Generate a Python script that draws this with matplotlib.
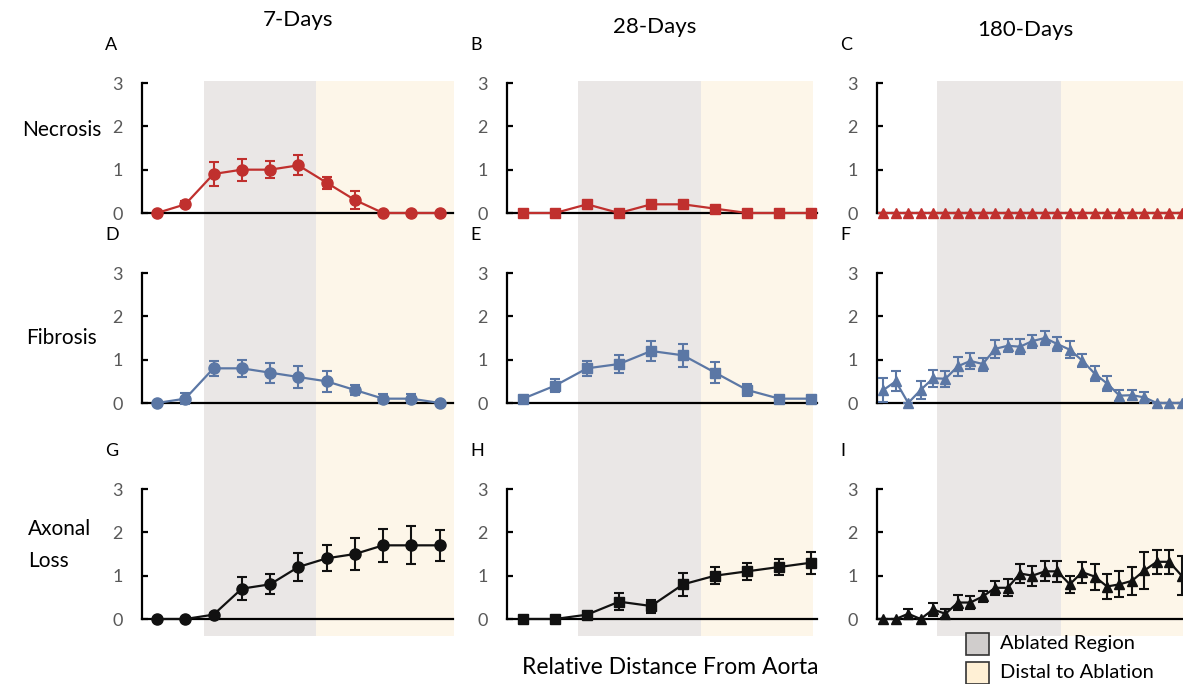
import numpy as np
import matplotlib
matplotlib.use("Agg")
import matplotlib.pyplot as plt
from matplotlib.patches import Rectangle

plt.rcParams['font.family'] = ['Lato', 'DejaVu Sans']

# ---- data ----
titles = ["7-Days", "28-Days", "180-Days"]
row_names = ["Necrosis", "Fibrosis", "Axonal\nLoss"]
letters = ["A", "B", "C", "D", "E", "F", "G", "H", "I"]

# 7 days (11 positions)
nec_7 = [0, 0.2, 0.9, 1.0, 1.0, 1.1, 0.7, 0.3, 0, 0, 0]
nec_7_err = [0, 0.07, 0.27, 0.25, 0.2, 0.23, 0.14, 0.2, 0, 0, 0]
fib_7 = [0, 0.1, 0.8, 0.8, 0.7, 0.6, 0.5, 0.3, 0.1, 0.1, 0]
fib_7_err = [0, 0.12, 0.17, 0.2, 0.23, 0.26, 0.24, 0.12, 0.1, 0.1, 0]
ax_7 = [0, 0, 0.1, 0.7, 0.8, 1.2, 1.4, 1.5, 1.7, 1.7, 1.7]
ax_7_err = [0, 0, 0.05, 0.26, 0.23, 0.32, 0.3, 0.36, 0.38, 0.44, 0.35]

# 28 days (10 positions)
nec_28 = [0, 0, 0.2, 0, 0.2, 0.2, 0.1, 0, 0, 0]
nec_28_err = [0, 0, 0.06, 0, 0.06, 0.06, 0.04, 0, 0, 0]
fib_28 = [0.1, 0.4, 0.8, 0.9, 1.2, 1.1, 0.7, 0.3, 0.1, 0.1]
fib_28_err = [0.05, 0.15, 0.17, 0.2, 0.24, 0.26, 0.24, 0.13, 0.05, 0.05]
ax_28 = [0, 0, 0.1, 0.4, 0.3, 0.8, 1.0, 1.1, 1.2, 1.3]
ax_28_err = [0, 0, 0.05, 0.2, 0.15, 0.26, 0.2, 0.2, 0.18, 0.25]

# 180 days (25 visible positions)
nec_180 = [0] * 25
nec_180_err = [0] * 25
fib_180 = [0.3, 0.5, 0, 0.3, 0.57, 0.56, 0.85, 0.97, 0.9, 1.25, 1.32, 1.3, 1.43,
           1.5, 1.36, 1.23, 0.98, 0.68, 0.45, 0.17, 0.18, 0.13, 0, 0, 0]
fib_180_err = [0.27, 0.23, 0, 0.2, 0.2, 0.18, 0.22, 0.18, 0.15, 0.2, 0.15, 0.18, 0.15,
               0.17, 0.17, 0.2, 0.14, 0.18, 0.17, 0.12, 0.12, 0.12, 0, 0, 0]
ax_180 = [0, 0, 0.12, 0, 0.22, 0.12, 0.38, 0.38, 0.52, 0.72, 0.72, 1.05, 1.0,
          1.1, 1.1, 0.8, 1.08, 0.98, 0.75, 0.8, 0.88, 1.12, 1.32, 1.32, 1.0]
ax_180_err = [0, 0, 0.12, 0, 0.15, 0.1, 0.17, 0.15, 0.12, 0.16, 0.2, 0.22, 0.23,
              0.23, 0.24, 0.2, 0.24, 0.3, 0.28, 0.3, 0.33, 0.42, 0.27, 0.27, 0.45]

grid_vals = [[(nec_7, nec_7_err), (nec_28, nec_28_err), (nec_180, nec_180_err)],
             [(fib_7, fib_7_err), (fib_28, fib_28_err), (fib_180, fib_180_err)],
             [(ax_7, ax_7_err), (ax_28, ax_28_err), (ax_180, ax_180_err)]]

# region boundaries in position units (ablated start, ablated end, distal end)
regions = [(2.67, 6.64, 11.52), (2.72, 6.56, 10.07), (5.34, 15.32, 30)]

# ---- layout (pixels) ----
W, H = 1183, 684
fig = plt.figure(figsize=(W / 100, H / 100), dpi=100)

def px_axes(left, right, top, bottom, **kw):
    return fig.add_axes([left / W, 1 - bottom / H, (right - left) / W, (bottom - top) / H], **kw)

cols = [(142, 453, (0.47, 11.47)), (507, 817, (0.5, 10.18)), (877, 1183, (0.49, 25.11))]
rows = [(83, 213), (273, 403), (489, 619)]
row_colors = ['#C0302E', '#5B77A5', '#111111']
col_markers = ['o', 's', '^']
msizes = [8, 7, 6.5]
gray_c = '#EAE7E6'
beige_c = '#FDF6E9'
tick_c = '#595959'

# shading background spanning all three rows
for (left, right, xl), (a0, a1, a2) in zip(cols, regions):
    bg = px_axes(left, right, 81, 636, zorder=0)
    bg.set_xlim(xl)
    bg.axvspan(a0, a1, color=gray_c, lw=0, clip_on=False)
    bg.axvspan(a1, a2, color=beige_c, lw=0, clip_on=False)
    bg.axis('off')

for r, (top, bot) in enumerate(rows):
    for c, (left, right, xl) in enumerate(cols):
        ax = px_axes(left, right, top, bot, zorder=2)
        ax.patch.set_alpha(0)
        vals, errs = grid_vals[r][c]
        x = np.arange(1, len(vals) + 1)
        ax.errorbar(x, vals, yerr=errs, color=row_colors[r], marker=col_markers[c],
                    ms=msizes[c], lw=1.6, elinewidth=1.5, capsize=3.5, capthick=1.5,
                    clip_on=False, zorder=3)
        ax.set_xlim(xl)
        ax.set_ylim(0, 3)
        ax.set_yticks([0, 1, 2, 3])
        ax.set_xticks([])
        for s in ['top', 'right']:
            ax.spines[s].set_visible(False)
        ax.spines['left'].set_linewidth(1.6)
        ax.spines['bottom'].set_linewidth(1.6)
        ax.tick_params(axis='y', direction='in', length=4, width=1.6, colors='black',
                       labelcolor=tick_c, labelsize=13, pad=14)
        fig.text((left - 37) / W, 1 - (top - 38) / H, letters[r * 3 + c], fontsize=13,
                 ha='left', va='center')

# column titles
for (cx, cy), t in zip([(298, 20), (655, 27), (1025, 30)], titles):
    fig.text(cx / W, 1 - cy / H, t, fontsize=16, ha='center', va='center')

# row labels
fig.text(62 / W, 1 - 130 / H, row_names[0], fontsize=15, ha='center', va='center')
fig.text(62 / W, 1 - 338 / H, row_names[1], fontsize=15, ha='center', va='center')
fig.text(28 / W, 1 - 545 / H, row_names[2], fontsize=15, ha='left', va='center',
         linespacing=1.75)

fig.text(670 / W, 1 - 667 / H, "Relative Distance From Aorta", fontsize=16.5,
         ha='center', va='center')

# legend
for (ly, fc, lab) in [(644, '#D0CDCC', "Ablated Region"), (673, '#FFF0D5', "Distal to Ablation")]:
    fig.patches.append(Rectangle((966 / W, 1 - (ly + 11) / H), 23 / W, 22 / H,
                                 transform=fig.transFigure, facecolor=fc,
                                 edgecolor='#333333', lw=1.2))
    fig.text(1000 / W, 1 - ly / H, lab, fontsize=14.5, ha='left', va='center')

fig.savefig("out.png", dpi=100)
